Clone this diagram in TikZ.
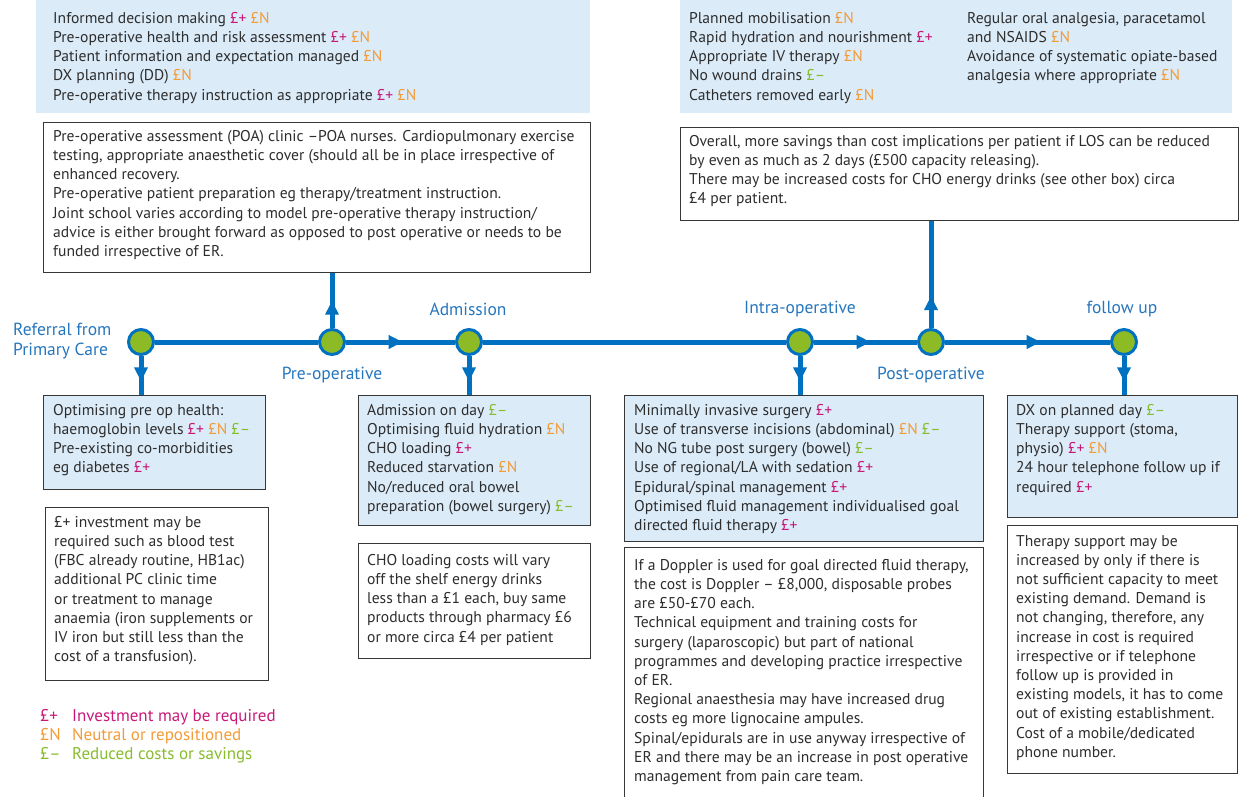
\documentclass[tikz,border=0pt]{standalone}
\usepackage{fontspec}
\setmainfont{PT Sans}
\usepackage{xcolor}
\usetikzlibrary{arrows.meta,decorations.markings}

\definecolor{lineblue}{RGB}{0,112,192}
\definecolor{dotgreen}{RGB}{141,187,37}
\definecolor{paleblue}{RGB}{219,235,248}
\definecolor{stageblue}{RGB}{38,118,190}
\definecolor{bodytext}{RGB}{45,45,45}
\definecolor{framegray}{RGB}{55,55,55}
\definecolor{costplus}{RGB}{200,25,120}
\definecolor{costneutral}{RGB}{243,155,55}
\definecolor{costminus}{RGB}{135,188,45}

\newcommand{\invest}{\textcolor{costplus}{£+}}
\newcommand{\neutral}{\textcolor{costneutral}{£N}}
\newcommand{\saving}{\textcolor{costminus}{£–}}

\tikzset{
  flow/.style={draw=lineblue, line width=5pt},
  midarrow/.style={postaction={decorate}, decoration={markings,
      mark=at position #1 with {\arrow{Triangle[length=14pt,width=13pt]}}}},
  stop/.style={circle, draw=lineblue, line width=3pt, fill=dotgreen, minimum size=25pt, inner sep=0pt},
  stage/.style={text=stageblue, inner sep=0pt, font=\fontsize{17.5}{19.5}\selectfont},
  topbox/.style={fill=paleblue, anchor=north west, inner sep=0pt},
  infobox/.style={draw=framegray, line width=1.4pt, fill=paleblue, anchor=north west, inner sep=0pt},
  notebox/.style={draw=framegray, line width=1.4pt, fill=white, anchor=north west, inner sep=0pt},
  txt/.style={anchor=north west, align=left, inner sep=0pt, text=bodytext, font=\fontsize{15.6}{19.2}\selectfont},
  key/.style={txt, font=\fontsize{17}{19}\selectfont},
}

\begin{document}
\begin{tikzpicture}[x=1pt, y=-1pt]
\useasboundingbox (0,0) rectangle (1241,796);

\node[topbox, minimum width=554pt, minimum height=113pt] (goals) at (36,0) {};
\node[txt] (goalstxt) at ([shift={(17,12)}]goals.north west) {Informed decision making \invest\ \neutral\\
Pre-operative health and risk assessment \invest\ \neutral\\
Patient information and expectation managed \neutral\\
DX planning (DD) \neutral\\
Pre-operative therapy instruction as appropriate \invest\ \neutral};

\node[notebox, minimum width=547pt, minimum height=150pt] (poa) at (43,122) {};
\node[txt] (poatxt) at ([shift={(10,8)}]poa.north west) {Pre-operative assessment (POA) clinic –POA nurses. Cardiopulmonary exercise\\
testing, appropriate anaesthetic cover (should all be in place irrespective of\\
enhanced recovery.\\
Pre-operative patient preparation eg therapy/treatment instruction.\\
Joint school varies according to model pre-operative therapy instruction/\\
advice is either brought forward as opposed to post operative or needs to be\\
funded irrespective of ER.};

\node[topbox, minimum width=552pt, minimum height=113pt] (recover) at (680,0) {};
\node[txt] (recovertxt) at ([shift={(9,12)}]recover.north west) {Planned mobilisation \neutral\\
Rapid hydration and nourishment \invest\\
Appropriate IV therapy \neutral\\
No wound drains \saving\\
Catheters removed early \neutral};
\node[txt] (paintxt) at ([shift={(287,12)}]recover.north west) {Regular oral analgesia, paracetamol\\
and NSAIDS \neutral\\
Avoidance of systematic opiate-based\\
analgesia where appropriate \neutral};

\node[notebox, minimum width=558pt, minimum height=93pt] (los) at (680,127) {};
\node[txt] (lostxt) at ([shift={(9,8)}]los.north west) {Overall, more savings than cost implications per patient if LOS can be reduced\\
by even as much as 2 days (£500 capacity releasing).\\
There may be increased costs for CHO energy drinks (see other box) circa\\
£4 per patient.};

\foreach \nm/\x in {ref/141, preop/332, adm/469, intra/800, postop/931, fup/1124}
  \node[stop] (\nm) at (\x,342) {};

\node[stage, align=left, anchor=west] (reflbl) at (13,341) {Referral from\\Primary Care};
\node[stage] (preoplbl) at (332,375) {Pre-operative};
\node[stage] (admlbl) at (468,309) {Admission};
\node[stage] (intralbl) at (800,309) {Intra-operative};
\node[stage] (postoplbl) at (931,375) {Post-operative};
\node[stage] (fuplbl) at (1122,309) {follow up};

\node[infobox, minimum width=222pt, minimum height=94pt] (health) at (43,395) {};
\node[txt] (healthtxt) at ([shift={(10,9)}]health.north west) {Optimising pre op health:\\
haemoglobin levels \invest\ \neutral\ \saving\\
Pre-existing co-morbidities\\
eg diabetes \invest};

\node[notebox, minimum width=223pt, minimum height=173pt] (blood) at (45,507) {};
\node[txt] (bloodtxt) at ([shift={(9,9)}]blood.north west) {£+ investment may be\\
required such as blood test\\
(FBC already routine, HB1ac)\\
additional PC clinic time\\
or treatment to manage\\
anaemia (iron supplements or\\
IV iron but still less than the\\
cost of a transfusion).};

\node[infobox, minimum width=232pt, minimum height=130pt] (admit) at (358,395) {};
\node[txt] (admittxt) at ([shift={(9,9)}]admit.north west) {Admission on day \saving\\
Optimising fluid hydration \neutral\\
CHO loading \invest\\
Reduced starvation \neutral\\
No/reduced oral bowel\\
preparation (bowel surgery) \saving};

\node[notebox, minimum width=232pt, minimum height=115pt] (cho) at (358,543) {};
\node[txt] (chotxt) at ([shift={(9,11)}]cho.north west) {CHO loading costs will vary\\
off the shelf energy drinks\\
less than a £1 each, buy same\\
products through pharmacy £6\\
or more circa £4 per patient};

\node[infobox, minimum width=359pt, minimum height=146pt] (surg) at (624,395) {};
\node[txt] (surgtxt) at ([shift={(10,9)}]surg.north west) {Minimally invasive surgery \invest\\
Use of transverse incisions (abdominal) \neutral\ \saving\\
No NG tube post surgery (bowel) \saving\\
Use of regional/LA with sedation \invest\\
Epidural/spinal management \invest\\
Optimised fluid management individualised goal\\
directed fluid therapy \invest};

\node[notebox, minimum width=359pt, minimum height=260pt] (doppler) at (624,547) {};
\node[txt] (dopplertxt) at ([shift={(10,12)}]doppler.north west) {If a Doppler is used for goal directed fluid therapy,\\
the cost is Doppler – £8,000, disposable probes\\
are £50-£70 each.\\
Technical equipment and training costs for\\
surgery (laparoscopic) but part of national\\
programmes and developing practice irrespective\\
of ER.\\
Regional anaesthesia may have increased drug\\
costs eg more lignocaine ampules.\\
Spinal/epidurals are in use anyway irrespective of\\
ER and there may be an increase in post operative\\
management from pain care team.};

\node[infobox, minimum width=230pt, minimum height=122pt] (disch) at (1007,395) {};
\node[txt] (dischtxt) at ([shift={(9,9)}]disch.north west) {DX on planned day \saving\\
Therapy support (stoma,\\
physio) \invest\ \neutral\\
24 hour telephone follow up if\\
required \invest};

\node[notebox, minimum width=230pt, minimum height=248pt] (therapy) at (1007,525) {};
\node[txt] (therapytxt) at ([shift={(9,10)}]therapy.north west) {Therapy support may be\\
increased by only if there is\\
not sufficient capacity to meet\\
existing demand. Demand is\\
not changing, therefore, any\\
increase in cost is required\\
irrespective or if telephone\\
follow up is provided in\\
existing models, it has to come\\
out of existing establishment.\\
Cost of a mobile/dedicated\\
phone number.};

\draw[flow] (ref) -- (preop);
\draw[flow, midarrow=0.52] (preop) -- (adm);
\draw[flow] (adm) -- (intra);
\draw[flow, midarrow=0.55] (intra) -- (postop);
\draw[flow, midarrow=0.58] (postop) -- (fup);

\draw[flow, midarrow=0.65] (ref.south) -- (ref.south |- health.north);
\draw[flow, midarrow=0.65] (adm.south) -- (adm.south |- admit.north);
\draw[flow, midarrow=0.65] (intra.south) -- (intra.south |- surg.north);
\draw[flow, midarrow=0.65] (fup.south) -- (fup.south |- disch.north);
\draw[flow, midarrow=0.5] (preop.north) -- (preop.north |- poa.south);
\draw[flow, midarrow=0.3] (postop.north) -- (postop.north |- los.south);

\node[key, text=costplus] (keyplus) at (40,709) {£+};
\node[key, text=costplus] (keyplustxt) at (72,709) {Investment may be required};
\node[key, text=costneutral] (keyneu) at (40,728) {£N};
\node[key, text=costneutral] (keyneutxt) at (72,728) {Neutral or repositioned};
\node[key, text=costminus] (keymin) at (40,747) {£–};
\node[key, text=costminus] (keymintxt) at (72,747) {Reduced costs or savings};
\end{tikzpicture}
\end{document}
